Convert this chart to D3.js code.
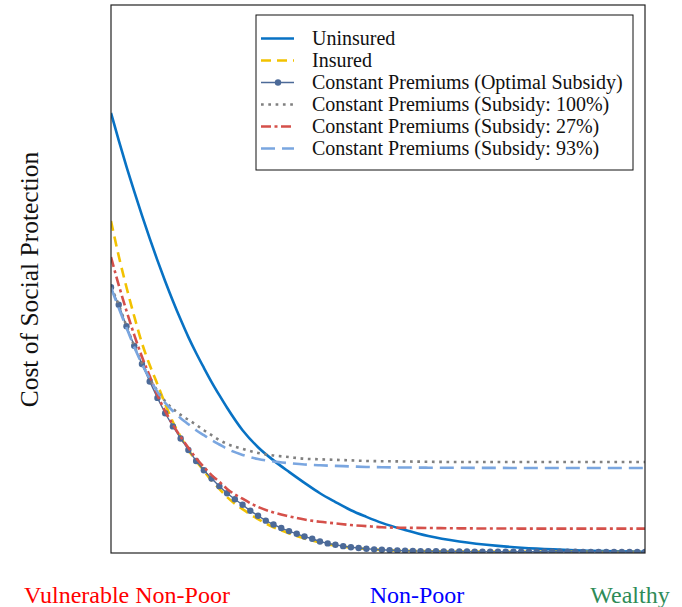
<!DOCTYPE html>
<html>
<head>
<meta charset="utf-8">
<script src="https://cdn.jsdelivr.net/npm/d3@7"></script>
<style>
  body { margin: 0; background: #fff; }
  svg text { font-family: "Liberation Serif", "Times New Roman", serif; fill: #111; }
</style>
</head>
<body>
<div id="chart"></div>
<script>
// income position grid (index along the x axis) for the smooth curves
const gridX = [0, 1, 2, 3, 4, 5, 6, 7, 8, 9, 10, 11, 12, 13, 14, 15, 17, 19, 21, 23, 25, 27, 29, 31, 33, 35, 38, 41, 45, 50, 55, 60, 69];

const uninsured = [80.3, 75.3, 70.5, 66.0, 61.6, 57.4, 53.4, 49.6, 46.0, 42.6, 39.4, 36.5, 33.8, 31.2, 28.8, 26.5, 22.4, 19.3, 16.9, 14.8, 12.8, 10.9, 9.3, 7.8, 6.6, 5.5, 4.2, 3.1, 2.1, 1.3, 0.8, 0.5, 0.24];
const insured = [60.6, 54.2, 48.5, 43.2, 38.3, 34.3, 30.8, 27.2, 23.9, 21.2, 18.8, 16.8, 15.0, 13.2, 11.7, 10.2, 8.0, 6.2, 4.7, 3.6, 2.65, 1.9, 1.37, 0.99, 0.73, 0.55, 0.4, 0.33, 0.27, 0.24, 0.22, 0.2, 0.18];
const subsidy100 = [48.5, 45.3, 41.4, 37.8, 34.7, 31.8, 29.6, 27.7, 26.3, 25.2, 24.3, 23.4, 22.4, 21.5, 20.6, 19.9, 19.0, 18.25, 17.8, 17.5, 17.2, 17.1, 17.0, 16.9, 16.8, 16.75, 16.7, 16.65, 16.6, 16.6, 16.6, 16.6, 16.6];
const subsidy27 = [54.0, 48.9, 44.2, 39.8, 35.8, 32.3, 28.8, 25.9, 23.4, 21.2, 19.2, 17.3, 15.7, 14.2, 13.0, 11.7, 9.9, 8.4, 7.4, 6.7, 6.1, 5.7, 5.4, 5.1, 4.9, 4.7, 4.6, 4.56, 4.5, 4.47, 4.45, 4.45, 4.45];
const subsidy93 = [48.4, 44.7, 41.1, 37.6, 34.5, 31.8, 29.4, 27.4, 25.9, 24.6, 23.5, 22.4, 21.5, 20.6, 19.8, 19.0, 17.9, 17.15, 16.7, 16.4, 16.15, 16.0, 15.9, 15.8, 15.7, 15.65, 15.6, 15.57, 15.55, 15.53, 15.5, 15.5, 15.5];

// optimal subsidy: one value per grid index 0..69 (these carry the markers)
const optimal = [48.5, 45.3, 41.4, 37.8, 34.5, 31.3, 28.3, 25.5, 23.1, 20.9,
    18.8, 16.8, 15.1, 13.6, 12.2, 10.9, 9.8, 8.8, 7.7, 6.8,
    5.9, 5.2, 4.55, 4.0, 3.5, 3.0, 2.6, 2.1, 1.75, 1.5,
    1.25, 1.05, 0.9, 0.78, 0.67, 0.58, 0.51, 0.45, 0.41, 0.38,
    0.35, 0.33, 0.31, 0.3, 0.29, 0.28, 0.27, 0.26, 0.26, 0.25,
    0.25, 0.24, 0.24, 0.24, 0.23, 0.23, 0.23, 0.22, 0.22, 0.22,
    0.22, 0.21, 0.21, 0.21, 0.21, 0.21, 0.2, 0.2, 0.2, 0.2];

const seriesNames = ["Uninsured", "Insured", "Constant Premiums (Optimal Subsidy)",
    "Constant Premiums (Subsidy: 100%)", "Constant Premiums (Subsidy: 27%)", "Constant Premiums (Subsidy: 93%)"];

const groupLabels = ["Vulnerable Non-Poor", "Non-Poor", "Wealthy"];
const yLabel = "Cost of Social Protection";

// styling
const series = [
    { name: seriesNames[0], values: uninsured, color: "#0872c4", dash: null, width: 2.6 },
    { name: seriesNames[1], values: insured, color: "#f2c200", dash: "10,6", width: 2.6 },
    { name: seriesNames[2], values: optimal, color: "#4c6a98", dash: null, width: 1.4, marker: true },
    { name: seriesNames[3], values: subsidy100, color: "#808080", dash: "2.7,4.6", width: 2.6 },
    { name: seriesNames[4], values: subsidy27, color: "#d5504a", dash: "10,3.5,3,3.5", width: 2.6 },
    { name: seriesNames[5], values: subsidy93, color: "#7aa6e0", dash: "14,7", width: 2.6 }
];
const groupColors = ["#ff0000", "#0000ff", "#2e8b57"];
const groupX = [127, 417, 630];

const margin = { top: 5, right: 37, bottom: 54, left: 111 };
const width = 682 - margin.left - margin.right,
    height = 607 - margin.top - margin.bottom;

const svg = d3.select("#chart")
    .append("svg")
    .attr("width", 682)
    .attr("height", 607);

const g = svg.append("g")
    .attr("transform", "translate(" + margin.left + "," + margin.top + ")");

const xScale = d3.scaleLinear().domain([0, 69]).range([0, width]);
const yScale = d3.scaleLinear().domain([0, 100]).range([height, 0]);

g.append("clipPath").attr("id", "clip")
    .append("rect").attr("width", width).attr("height", height);

const plot = g.append("g").attr("clip-path", "url(#clip)");

series.forEach(function (s) {
    const xs = s.marker ? s.values.map((v, i) => i) : gridX;
    const pts = s.values.map((v, i) => [xs[i], v]);
    const line = d3.line()
        .x(d => xScale(d[0]))
        .y(d => yScale(d[1]))
        .curve(s.marker ? d3.curveLinear : d3.curveMonotoneX);

    plot.append("path")
        .datum(pts)
        .attr("fill", "none")
        .attr("stroke", s.color)
        .attr("stroke-width", s.width)
        .attr("stroke-dasharray", s.dash)
        .attr("d", line);

    if (s.marker) {
        plot.selectAll(null)
            .data(pts)
            .enter().append("circle")
            .attr("cx", d => xScale(d[0]))
            .attr("cy", d => yScale(d[1]))
            .attr("r", 3.2)
            .attr("fill", s.color);
    }
});

// frame
g.append("rect")
    .attr("width", width)
    .attr("height", height)
    .attr("fill", "none")
    .attr("stroke", "#222")
    .attr("stroke-width", 1.2);

// legend
const legend = g.append("g").attr("transform", "translate(145,10)");
legend.append("rect")
    .attr("width", 377)
    .attr("height", 155)
    .attr("fill", "#fff")
    .attr("stroke", "#111")
    .attr("stroke-width", 1);

series.forEach(function (s, i) {
    const row = legend.append("g").attr("transform", "translate(0," + (23.5 + i * 22) + ")");
    row.append("line")
        .attr("x1", 5).attr("x2", 38)
        .attr("stroke", s.color)
        .attr("stroke-width", s.width)
        .attr("stroke-dasharray", s.dash);
    if (s.marker) {
        row.append("circle").attr("cx", 22).attr("r", 3.2).attr("fill", s.color);
    }
    row.append("text")
        .attr("x", 56)
        .attr("y", 6)
        .style("font-size", "20px")
        .text(s.name);
});

// y label
svg.append("text")
    .attr("transform", "translate(38," + (margin.top + height / 2 + 0.5) + ") rotate(-90)")
    .attr("text-anchor", "middle")
    .style("font-size", "25.5px")
    .text(yLabel);

// group labels under the axis
svg.selectAll(".group-label")
    .data(groupLabels)
    .enter().append("text")
    .attr("class", "group-label")
    .attr("x", (d, i) => groupX[i])
    .attr("y", 603)
    .attr("text-anchor", "middle")
    .style("font-size", "24px")
    .style("fill", (d, i) => groupColors[i])
    .text(d => d);
</script>
</body>
</html>
